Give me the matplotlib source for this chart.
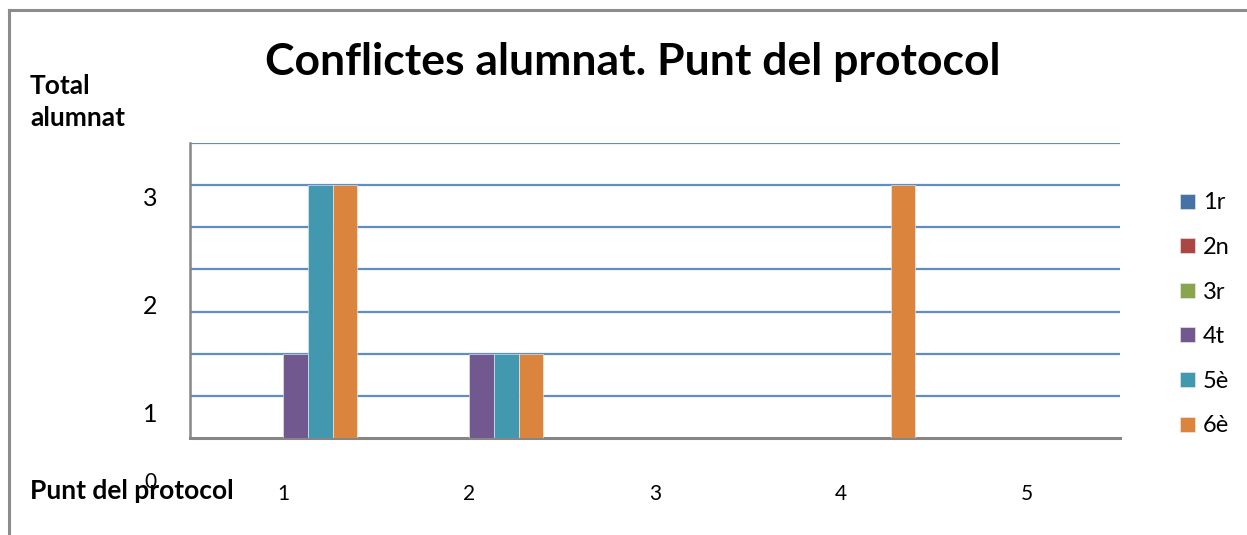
"""
Conflictes alumnat - bar chart per punt del protocol
"""

import numpy as np
import matplotlib
matplotlib.use('Agg')
import matplotlib.pyplot as plt
from matplotlib.lines import Line2D

# Data
categories = [1, 2, 3, 4, 5]
series_names = ['1r', '2n', '3r', '4t', '5è', '6è']
vals_1r = [0, 0, 0, 0, 0]
vals_2n = [0, 0, 0, 0, 0]
vals_3r = [0, 0, 0, 0, 0]
vals_4t = [1, 1, 0, 0, 0]
vals_5e = [3, 1, 0, 0, 0]
vals_6e = [3, 1, 0, 3, 0]
y_tick_labels = ['3', '2', '1', '0']

colors = ['#4672A8', '#AA4643', '#89A54E', '#71588F', '#4198AF', '#DB843D']

plt.rcParams['font.family'] = ['Lato', 'DejaVu Sans']

W, H = 1247, 535
fig = plt.figure(figsize=(W / 100, H / 100), dpi=100)

# outer frame (top and left edges only visible)
fig.add_artist(Line2D([9 / W, 9 / W], [0, 1 - 10 / H], transform=fig.transFigure,
                      color='#8c8c8c', lw=2.2))
fig.add_artist(Line2D([9 / W, 1], [1 - 10 / H, 1 - 10 / H], transform=fig.transFigure,
                      color='#8c8c8c', lw=2.2))

ax = fig.add_axes([190 / W, (H - 438) / H, 930 / W, 295 / H])

all_vals = [vals_1r, vals_2n, vals_3r, vals_4t, vals_5e, vals_6e]
x = np.array(categories, dtype=float)
bar_w = 0.1333
for i, (name, vals) in enumerate(zip(series_names, all_vals)):
    offs = (i - 2.5) * bar_w
    ax.bar(x + offs, vals, width=bar_w, color=colors[i], label=name,
           edgecolor='#f0f0f0', linewidth=0.4, zorder=3)

ax.set_xlim(0.5, 5.5)
ax.set_ylim(0, 3.5)
ax.set_yticks(np.arange(0.5, 3.51, 0.5))
ax.yaxis.grid(True, color='#4F81BD', linewidth=1.6, alpha=0.9, zorder=0)
ax.set_axisbelow(True)
ax.tick_params(axis='y', length=0, labelleft=False)
ax.set_xticks(categories)
ax.set_xticklabels([str(c) for c in categories], fontsize=15)
ax.tick_params(axis='x', length=0, pad=33)
for s in ['top', 'right']:
    ax.spines[s].set_visible(False)
ax.spines['left'].set_color('#868686')
ax.spines['left'].set_linewidth(1.8)
ax.spines['bottom'].set_color('#868686')
ax.spines['bottom'].set_linewidth(2.2)

fig.text(30 / W, 1 - 491 / H, 'Punt del protocol', fontsize=19, fontweight='bold',
         ha='left', va='center', zorder=1)

# misplaced value labels of the y axis, as in the original
y_label_px = [199, 306, 415, 482]
for lab, py in zip(y_tick_labels, y_label_px):
    fig.text(150 / W, 1 - py / H, lab, fontsize=18 if lab != '0' else 15,
             ha='center', va='center', zorder=5)

fig.text(633 / W, 1 - 62 / H, 'Conflictes alumnat. Punt del protocol',
         fontsize=32, fontweight='bold', ha='center', va='center')
fig.text(30 / W, 1 - 86 / H, 'Total', fontsize=19, fontweight='bold',
         ha='left', va='center')
fig.text(30 / W, 1 - 118 / H, 'alumnat', fontsize=19, fontweight='bold',
         ha='left', va='center')

leg = ax.legend(loc='upper left', bbox_to_anchor=(1171 / W, 1 - 183 / H),
                bbox_transform=fig.transFigure, frameon=False, fontsize=17,
                handlelength=0.6, handleheight=0.6, handletextpad=0.35,
                labelspacing=1.0, borderaxespad=0)

fig.savefig('out.png', dpi=100)
